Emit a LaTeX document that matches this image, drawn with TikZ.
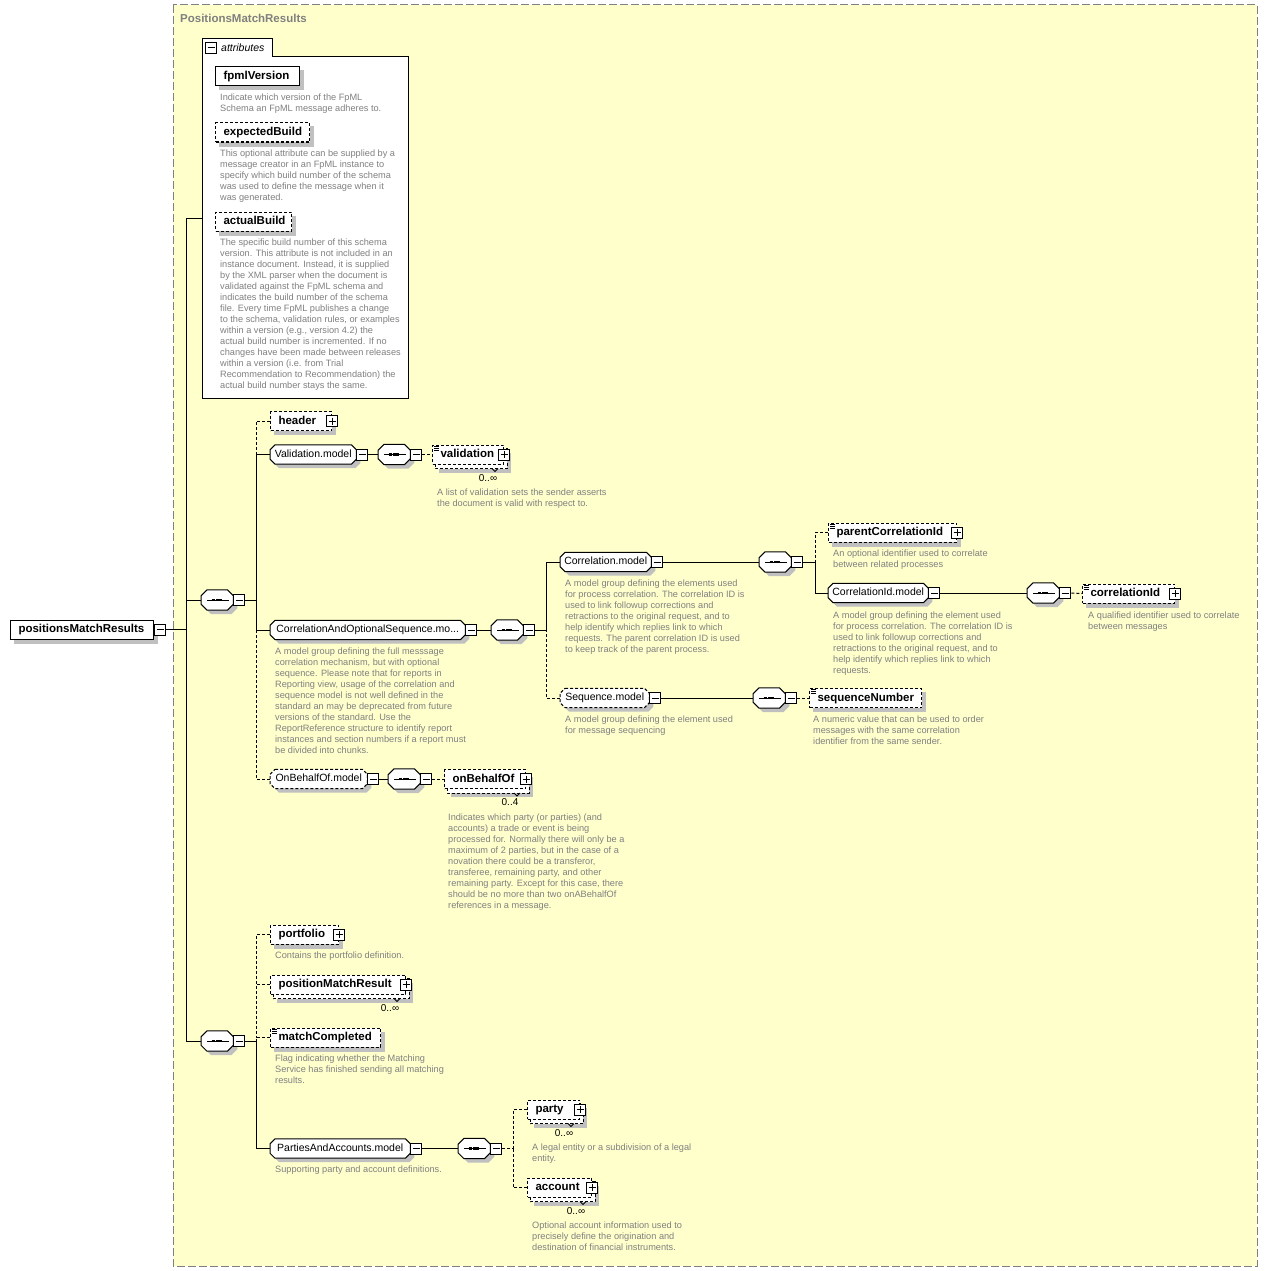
\documentclass[tikz,border=0pt]{standalone}
\usepackage{fontspec}
\setmainfont{Liberation Sans}
\usetikzlibrary{calc}
\pgfdeclarelayer{back}
\pgfdeclarelayer{shade}
\pgfsetlayers{back,shade,main}
\definecolor{bgyellow}{RGB}{255,255,204}
\definecolor{framegray}{RGB}{128,128,128}
\definecolor{descgray}{RGB}{128,128,128}
\definecolor{shadowgray}{RGB}{192,192,192}
\tikzset{
  conn/.style={line width=1pt},
  opt/.style={dash pattern=on 3pt off 2pt},
  elembox/.style={draw, fill=white, line width=1pt, anchor=west, inner xsep=8pt, inner ysep=4pt,
     text height=8.5pt, text depth=2.5pt, font=\bfseries\fontsize{11.5}{12}\selectfont},
  mgnode/.style={anchor=west, inner xsep=4pt, inner ysep=4pt, minimum height=19pt,
     text height=8pt, text depth=2.5pt, font=\fontsize{10.5}{12}\selectfont},
  compnode/.style={anchor=west, minimum width=32pt, minimum height=20pt, inner sep=0pt},
  pmbox/.style={draw, fill=white, line width=1pt, minimum size=11pt, inner sep=0pt},
  minusbox/.style={pmbox, path picture={\draw[line width=1pt]
     ($(path picture bounding box.center)+(-3.5,0)$) -- ($(path picture bounding box.center)+(3.5,0)$);}},
  plusbox/.style={pmbox, path picture={\draw[line width=1pt]
     ($(path picture bounding box.center)+(-3.5,0)$) -- ($(path picture bounding box.center)+(3.5,0)$)
     ($(path picture bounding box.center)+(0,-3.5)$) -- ($(path picture bounding box.center)+(0,3.5)$);}},
  desc/.style={anchor=north west, inner sep=0pt, align=left, text=descgray, font=\fontsize{9.2}{11}\selectfont},
  mult/.style={inner sep=0pt, font=\fontsize{10}{11}\selectfont},
}
% octagon (chamfered) outline with shadow, from a node's corners
\newcommand\octshape[3]{%
 \begin{pgfonlayer}{shade}
 \fill[shadowgray] ($(#1.north west)+(#2+4,4)$) -- ($(#1.north east)+(4-#2,4)$) -- ($(#1.north east)+(4,#2+4)$) -- ($(#1.south east)+(4,4-#2)$) -- ($(#1.south east)+(4-#2,4)$) -- ($(#1.south west)+(#2+4,4)$) -- ($(#1.south west)+(4,4-#2)$) -- ($(#1.north west)+(4,#2+4)$) -- cycle;
 \draw[line width=1pt, fill=white, #3] ($(#1.north west)+(#2,0)$) -- ($(#1.north east)+(-#2,0)$) -- ($(#1.north east)+(0,#2)$) -- ($(#1.south east)+(0,-#2)$) -- ($(#1.south east)+(-#2,0)$) -- ($(#1.south west)+(#2,0)$) -- ($(#1.south west)+(0,-#2)$) -- ($(#1.north west)+(0,#2)$) -- cycle;
 \end{pgfonlayer}}
% element box
\newcommand\elem[6][]{%
  \pgfmathsetmacro\tw{#5-16}%
  \node[elembox,#1] (#2) at (#3,#4) {\makebox[\tw pt][l]{#6}};
  \begin{pgfonlayer}{shade}\fill[shadowgray] ($(#2.north west)+(4,4)$) rectangle ($(#2.south east)+(4,4)$);\end{pgfonlayer}}
% repeated element box (stacked)
\newcommand\elemmulti[6]{%
  \pgfmathsetmacro\tw{#4-16}%
  \node[elembox,opt] (#1) at (#2,#3) {\makebox[\tw pt][l]{#5}};
  \begin{pgfonlayer}{shade}
   \fill[shadowgray] ($(#1.north west)+(7,8)$) rectangle ($(#1.south east)+(7,8)$);
   \draw[line width=1pt, fill=white, opt] ($(#1.north west)+(3,4)$) rectangle ($(#1.south east)+(3,4)$);
  \end{pgfonlayer}
  \draw[line width=0.8pt] ($(#1.south east)+(-12,4)$) -- ++(3,3) -- ++(3,-3);
  \node[plusbox] (#1p) at (#1.east) {};
  \node[mult] (#1n) at ($(#1.east)+(-16,23.5)$) {#6};}
% simple content icon
\newcommand\simpleicon[1]{%
  \draw[line width=0.7pt] ($(#1.north west)+(2,1.8)$) -- +(5,0) ($(#1.north west)+(2,3.8)$) -- +(5,0) ($(#1.north west)+(2,5.8)$) -- +(5,0);}
% model group
\newcommand\mgroup[6][]{%
  \node[mgnode, minimum width=#5pt] (#2) at (#3,#4) {#6};
  \octshape{#2}{5}{#1}
  \node[minusbox, anchor=west] (#2m) at (#2.east) {};}
% sequence compositor
\newcommand\seqcomp[3]{%
  \node[compnode] (#1) at (#2,#3) {};
  \octshape{#1}{6}{}
  \draw[line width=1pt] ($(#1.west)+(6,0)$) -- ($(#1.east)+(-4,0)$);
  \foreach \dd in {-3.5,0,3.5} \fill ($(#1.center)+(\dd-1.3,-1.3)$) rectangle ++(2.6,2.6);
  \node[minusbox, anchor=west] (#1m) at (#1.east) {};}

\begin{document}
\begin{tikzpicture}[x=1pt,y=-1pt]
\useasboundingbox (0,0) rectangle (1267,1271);
\begin{pgfonlayer}{back}
\draw[framegray, fill=bgyellow, line width=1pt, dash pattern=on 8pt off 3pt] (173,5) rectangle (1257,1266);
\node[fill=white, anchor=north west, minimum width=206pt, minimum height=341pt, inner sep=0pt] (attrbox) at (202,57) {};
\node[fill=white, anchor=south west, minimum width=70pt, minimum height=18pt, inner sep=0pt] (attrtab) at (202,57) {};
\end{pgfonlayer}
\node[anchor=base west, inner sep=0pt, text=framegray, font=\bfseries\fontsize{11.5}{12}\selectfont] (title) at (180,23) {PositionsMatchResults};

% attributes
\draw[line width=1pt] (attrtab.south east) -- (attrbox.north east) -- (attrbox.south east) -- (attrbox.south west) -- (attrtab.north west) -- (attrtab.north east) -- (attrtab.south east);
\node[minusbox] (attrm) at (211,48) {};
\node[anchor=west, inner sep=0pt, font=\itshape\fontsize{10.5}{12}\selectfont] (attrlabel) at (221,48) {attributes};

\elem{fpml}{215}{76.5}{84}{fpmlVersion}
\node[desc] (fpmld) at (220,94) {Indicate which version of the FpML\\Schema an FpML message adheres to.};
\elem[opt]{expb}{215}{132.5}{94}{expectedBuild}
\node[desc] (expbd) at (220,150) {This optional attribute can be supplied by a\\message creator in an FpML instance to\\specify which build number of the schema\\was used to define the message when it\\was generated.};
\elem[opt]{actb}{215}{221.5}{76}{actualBuild}
\node[desc] (actbd) at (220,239) {The specific build number of this schema\\version. This attribute is not included in an\\instance document. Instead, it is supplied\\by the XML parser when the document is\\validated against the FpML schema and\\indicates the build number of the schema\\file. Every time FpML publishes a change\\to the schema, validation rules, or examples\\within a version (e.g., version 4.2) the\\actual build number is incremented. If no\\changes have been made between releases\\within a version (i.e. from Trial\\Recommendation to Recommendation) the\\actual build number stays the same.};

% root
\elem{root}{10}{629.5}{143}{positionsMatchResults}
\node[minusbox, anchor=west] (rootm) at (root.east) {};

\coordinate (v0) at (186,0);
\coordinate (v1) at (256,0);
\coordinate (v2) at (546,0);
\coordinate (v3) at (815,0);
\coordinate (v5) at (513,0);
\coordinate (attrc) at (202,218);

\seqcomp{s1}{201}{600}
\seqcomp{s2}{201}{1041}

\draw[conn] (rootm.east) -- (rootm.east -| v0);
\draw[conn] (attrc) -| (rootm.east -| v0);
\draw[conn] (s1.west) -| (rootm.east -| v0);
\draw[conn] (s2.west) -| (rootm.east -| v0);

% upper sequence
\elem[opt]{header}{270}{421}{61}{header}
\node[plusbox] (headerp) at (header.east) {};
\mgroup{valm}{270}{454.5}{86}{Validation.model}
\seqcomp{sv}{378}{454.5}
\elemmulti{validation}{432}{454.5}{71}{validation}{0..∞}
\simpleicon{validation}
\node[desc] (validationd) at (437,489) {A list of validation sets the sender asserts\\the document is valid with respect to.};

\mgroup{caos}{270}{630}{195}{CorrelationAndOptionalSequence.mo...}
\seqcomp{sc}{491}{630}
\node[desc] (caosd) at (275,648) {A model group defining the full messsage\\correlation mechanism, but with optional\\sequence. Please note that for reports in\\Reporting view, usage of the correlation and\\sequence model is not well defined in the\\standard an may be deprecated from future\\versions of the standard. Use the\\ReportReference structure to identify report\\instances and section numbers if a report must\\be divided into chunks.};

\mgroup{corr}{560}{562}{91}{Correlation.model}
\seqcomp{scorr}{759}{562}
\node[desc] (corrd) at (565,580) {A model group defining the elements used\\for process correlation. The correlation ID is\\used to link followup corrections and\\retractions to the original request, and to\\help identify which replies link to which\\requests. The parent correlation ID is used\\to keep track of the parent process.};
\elem[opt]{pcid}{828}{532.5}{128}{parentCorrelationId}
\node[plusbox] (pcidp) at (pcid.east) {};
\simpleicon{pcid}
\node[desc] (pcidd) at (833,550) {An optional identifier used to correlate\\between related processes};
\mgroup{cidm}{828}{593}{100}{CorrelationId.model}
\seqcomp{scid}{1027}{593}
\node[desc] (cidmd) at (833,612) {A model group defining the element used\\for process correlation. The correlation ID is\\used to link followup corrections and\\retractions to the original request, and to\\help identify which replies link to which\\requests.};
\elem[opt]{cid}{1082}{593.5}{92}{correlationId}
\node[plusbox] (cidp) at (cid.east) {};
\simpleicon{cid}
\node[desc] (cidd) at (1088,612) {A qualified identifier used to correlate\\between messages};

\mgroup[opt]{seqm}{560}{698}{89}{Sequence.model}
\seqcomp{sseq}{753}{698}
\node[desc] (seqmd) at (565,716) {A model group defining the element used\\for message sequencing};
\elem[opt]{seqn}{809}{698}{112}{sequenceNumber}
\simpleicon{seqn}
\node[desc] (seqnd) at (813,716) {A numeric value that can be used to order\\messages with the same correlation\\identifier from the same sender.};

\mgroup[opt]{obom}{270}{779}{97}{OnBehalfOf.model}
\seqcomp{sobo}{388}{779}
\elemmulti{obo}{444}{779}{81}{onBehalfOf}{0..4}
\node[desc] (obod) at (448,814) {Indicates which party (or parties) (and\\accounts) a trade or event is being\\processed for. Normally there will only be a\\maximum of 2 parties, but in the case of a\\novation there could be a transferor,\\transferee, remaining party, and other\\remaining party. Except for this case, there\\should be no more than two onABehalfOf\\references in a message.};

% upper connectors
\draw[conn] (s1m.east) -- (s1m.east -| v1);
\draw[conn,opt] (header.west) -| (valm.west -| v1);
\draw[conn] (valm.west) -| (s1m.east -| v1);
\draw[conn] (caos.west) -| (s1m.east -| v1);
\draw[conn,opt] (obom.west) -| (caos.west -| v1);
\draw[conn] (valmm.east) -- (sv.west);
\draw[conn,opt] (svm.east) -- (validation.west);
\draw[conn] (caosm.east) -- (sc.west);
\draw[conn] (scm.east) -- (scm.east -| v2);
\draw[conn] (corr.west) -| (scm.east -| v2);
\draw[conn,opt] (seqm.west) -| (scm.east -| v2);
\draw[conn] (corrm.east) -- (scorr.west);
\draw[conn] (scorrm.east) -- (scorrm.east -| v3);
\draw[conn,opt] (pcid.west) -| (scorrm.east -| v3);
\draw[conn] (cidm.west) -| (scorrm.east -| v3);
\draw[conn] (cidmm.east) -- (scid.west);
\draw[conn,opt] (scidm.east) -- (cid.west);
\draw[conn] (seqmm.east) -- (sseq.west);
\draw[conn,opt] (sseqm.east) -- (seqn.west);
\draw[conn] (obomm.east) -- (sobo.west);
\draw[conn,opt] (sobom.east) -- (obo.west);

% lower sequence
\elem[opt]{portfolio}{270}{934.5}{68}{portfolio}
\node[plusbox] (portfoliop) at (portfolio.east) {};
\node[desc] (portfoliod) at (275,952) {Contains the portfolio definition.};
\elemmulti{pmr}{270}{984.5}{135}{positionMatchResult}{0..∞}
\elem[opt]{mc}{270}{1037.5}{110}{matchCompleted}
\simpleicon{mc}
\node[desc] (mcd) at (275,1055) {Flag indicating whether the Matching\\Service has finished sending all matching\\results.};
\mgroup{pam}{270}{1148.5}{140}{PartiesAndAccounts.model}
\node[desc] (pamd) at (275,1166) {Supporting party and account definitions.};
\seqcomp{spam}{458}{1148.5}
\elemmulti{party}{527}{1109.5}{52}{party}{0..∞}
\node[desc] (partyd) at (532,1144) {A legal entity or a subdivision of a legal\\entity.};
\elemmulti{account}{527}{1187.5}{64}{account}{0..∞}
\node[desc] (accountd) at (532,1222) {Optional account information used to\\precisely define the origination and\\destination of financial instruments.};

% lower connectors
\draw[conn] (s2m.east) -- (s2m.east -| v1);
\draw[conn,opt] (portfolio.west) -| (mc.west -| v1);
\draw[conn,opt] (pmr.west) -- (pmr.west -| v1);
\draw[conn,opt] (mc.west) -| (s2m.east -| v1);
\draw[conn] (pam.west) -| (s2m.east -| v1);
\draw[conn] (pamm.east) -- (spam.west);
\draw[conn,opt] (spamm.east) -- (spamm.east -| v5);
\draw[conn,opt] (party.west) -| (spamm.east -| v5);
\draw[conn,opt] (account.west) -| (spamm.east -| v5);
\end{tikzpicture}
\end{document}
